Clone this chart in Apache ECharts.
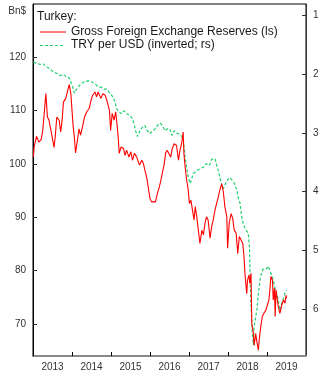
<!DOCTYPE html>
<html>
<head>
<meta charset="utf-8">
<script src="https://cdn.jsdelivr.net/npm/echarts@6/dist/echarts.min.js"></script>
<style>
html,body{margin:0;padding:0;background:#fff;}
#chart{width:325px;height:376px;}
</style>
</head>
<body>
<div id="chart"></div>
<script>
// Gross foreign exchange reserves (Bn$), decimal-year dates
var resDates = [2013.01,2013.03,2013.09,2013.15,2013.21,2013.25,2013.28,2013.33,2013.37,2013.41,2013.46,2013.49,2013.54,2013.57,2013.61,2013.67,2013.71,2013.75,2013.78,2013.84,2013.89,2013.93,2013.97,2014.00,2014.03,2014.06,2014.09,2014.14,2014.18,2014.22,2014.27,2014.32,2014.38,2014.44,2014.49,2014.53,2014.59,2014.63,2014.67,2014.74,2014.79,2014.85,2014.89,2014.96,2014.99,2015.03,2015.08,2015.12,2015.16,2015.19,2015.21,2015.26,2015.32,2015.36,2015.40,2015.46,2015.51,2015.55,2015.60,2015.66,2015.73,2015.79,2015.83,2015.87,2015.92,2015.96,2016.00,2016.04,2016.08,2016.14,2016.19,2016.24,2016.28,2016.33,2016.36,2016.40,2016.44,2016.49,2016.53,2016.57,2016.62,2016.64,2016.68,2016.73,2016.77,2016.81,2016.85,2016.87,2016.90,2016.94,2016.98,2017.01,2017.05,2017.09,2017.13,2017.16,2017.20,2017.24,2017.28,2017.33,2017.37,2017.41,2017.45,2017.49,2017.54,2017.58,2017.62,2017.67,2017.71,2017.75,2017.79,2017.84,2017.88,2017.92,2017.97,2017.99,2018.03,2018.08,2018.12,2018.16,2018.21,2018.25,2018.29,2018.33,2018.38,2018.41,2018.44,2018.48,2018.50,2018.54,2018.56,2018.59,2018.61,2018.65,2018.67,2018.71,2018.74,2018.78,2018.80,2018.84,2018.88,2018.92,2018.97,2019.01,2019.05,2019.08,2019.10,2019.14,2019.16,2019.19,2019.21,2019.23,2019.26,2019.29,2019.33,2019.38,2019.42,2019.46,2019.49,2019.50];
var resValues = [101.3,103.2,105.2,104.1,104.6,106.3,108.8,113.2,108.8,108.2,107.9,105.1,103.1,105.1,108.8,108.2,106.0,108.5,111.6,112.3,113.8,114.9,113.2,110.1,107.0,105.1,102.1,104.5,106.6,105.4,107.0,108.8,109.8,110.4,112.0,112.9,113.5,112.6,113.5,112.3,113.2,112.9,112.0,110.1,106.3,109.5,108.2,109.8,107.0,104.5,102.0,103.2,102.9,101.6,102.6,101.3,102.3,100.7,102.0,101.3,99.8,100.7,100.1,98.8,97.3,95.4,93.5,92.9,93.2,92.9,94.5,95.7,97.0,98.8,99.8,102.0,102.6,102.9,101.3,102.9,103.8,103.8,103.5,100.7,102.6,103.8,106.0,102.0,99.5,97.0,95.1,92.6,93.2,91.3,89.5,92.0,90.1,87.6,85.1,87.6,86.7,88.9,90.1,89.5,86.1,88.2,89.5,91.5,91.3,93.8,95.1,96.3,94.8,92.0,90.1,84.2,88.9,90.7,89.8,87.6,87.0,83.2,86.4,86.7,85.1,82.6,78.9,75.7,78.2,79.2,77.6,79.5,70.1,68.2,66.0,68.2,66.7,65.1,67.0,69.5,71.4,72.0,72.6,72.9,74.5,77.0,78.9,78.2,74.5,76.7,71.4,76.4,76.7,73.2,72.0,73.6,74.5,73.9,75.4,74.8];

// TRY per USD (plotted on inverted right axis)
var tryDates = [2013.01,2013.09,2013.18,2013.26,2013.35,2013.44,2013.52,2013.61,2013.69,2013.78,2013.86,2013.93,2013.97,2014.02,2014.06,2014.12,2014.19,2014.25,2014.33,2014.42,2014.51,2014.59,2014.67,2014.76,2014.82,2014.89,2014.97,2015.06,2015.10,2015.15,2015.21,2015.27,2015.33,2015.40,2015.49,2015.55,2015.60,2015.64,2015.68,2015.74,2015.81,2015.87,2015.93,2016.00,2016.06,2016.13,2016.19,2016.26,2016.32,2016.38,2016.44,2016.51,2016.56,2016.62,2016.69,2016.77,2016.85,2016.90,2016.94,2016.98,2017.03,2017.07,2017.11,2017.20,2017.28,2017.37,2017.45,2017.52,2017.58,2017.67,2017.71,2017.75,2017.79,2017.84,2017.88,2017.92,2017.97,2018.01,2018.05,2018.09,2018.14,2018.18,2018.23,2018.26,2018.31,2018.35,2018.39,2018.44,2018.48,2018.52,2018.55,2018.57,2018.59,2018.61,2018.62,2018.65,2018.67,2018.71,2018.74,2018.78,2018.82,2018.86,2018.91,2018.95,2018.99,2019.03,2019.08,2019.12,2019.16,2019.21,2019.25,2019.29,2019.33,2019.38,2019.42,2019.46,2019.50];
var tryValues = [1.79,1.81,1.83,1.82,1.87,1.91,1.96,1.98,2.02,2.00,2.04,2.06,2.13,2.22,2.32,2.25,2.19,2.15,2.12,2.11,2.13,2.16,2.21,2.22,2.25,2.25,2.32,2.39,2.47,2.59,2.64,2.67,2.62,2.67,2.70,2.76,2.87,2.98,3.06,2.96,2.90,2.87,2.96,3.01,2.96,2.93,2.87,2.83,2.87,2.96,2.93,2.93,3.04,2.96,3.00,3.02,3.09,3.41,3.58,3.75,3.86,3.78,3.69,3.64,3.61,3.58,3.52,3.55,3.45,3.44,3.55,3.64,3.75,3.89,3.95,3.89,3.81,3.78,3.76,3.79,3.83,3.88,3.98,4.09,4.20,4.43,4.54,4.63,4.60,4.71,4.94,5.51,5.96,6.19,6.36,6.61,6.30,6.13,6.02,5.73,5.51,5.37,5.31,5.34,5.31,5.27,5.28,5.42,5.51,5.65,5.73,5.85,6.02,5.90,5.82,5.73,5.68];

var leftTicks = [70, 80, 90, 100, 110, 120];
var rightTicks = [1, 2, 3, 4, 5, 6];
var yearTicks = [2013, 2014, 2015, 2016, 2017, 2018, 2019];
var yearLabels = ['2013', '2014', '2015', '2016', '2017', '2018', '2019'];

var titleText = 'Turkey:';
var seriesNames = ['Gross Foreign Exchange Reserves (ls)', 'TRY per USD (inverted; rs)'];
var unitText = 'Bn$';

function zip(a, b) { return a.map(function (v, i) { return [v, b[i]]; }); }

var labelPos = yearTicks.map(function (y) { return y + 0.5; });

var FONT = 'Liberation Sans, Arial, sans-serif';
var GREEN = '#22d070';
var chart = echarts.init(document.getElementById('chart'), null, {renderer: 'canvas'});
chart.setOption({
  animation: false,
  backgroundColor: '#fff',
  grid: {
    left: 33, right: 19, top: 4, bottom: 20,
    show: true, borderColor: '#000', borderWidth: 1,
    outerBoundsMode: 'none', containLabel: false
  },
  xAxis: {
    type: 'value', min: 2013, max: 2020,
    axisLine: {show: true, lineStyle: {color: '#8a8a8a', width: 2}},
    axisTick: {show: true, inside: true, length: 4, customValues: yearTicks, lineStyle: {color: '#000'}},
    axisLabel: {
      show: true, customValues: labelPos, margin: 6,
      fontSize: 10, color: '#333', fontFamily: FONT,
      formatter: function (v) { return yearLabels[Math.floor(v) - 2013]; }
    },
    splitLine: {show: false}
  },
  yAxis: [{
    type: 'value', min: 64, max: 130, position: 'left',
    axisLine: {show: true, lineStyle: {color: '#000', width: 1}},
    axisTick: {show: true, inside: true, length: 4, customValues: leftTicks, lineStyle: {color: '#333'}},
    axisLabel: {show: true, customValues: leftTicks, margin: 7, fontSize: 10, color: '#333', fontFamily: FONT},
    splitLine: {show: false}
  }, {
    type: 'value', min: 0.8, max: 6.8, inverse: true, position: 'right',
    axisLine: {show: true, lineStyle: {color: '#333', width: 1}},
    axisTick: {show: true, inside: true, length: 4, customValues: rightTicks, lineStyle: {color: '#333'}},
    axisLabel: {show: true, customValues: rightTicks, margin: 7, fontSize: 10, color: '#333', fontFamily: FONT},
    splitLine: {show: false}
  }],
  series: [{
    name: seriesNames[0], type: 'line', yAxisIndex: 0,
    data: zip(resDates, resValues), symbol: 'none',
    lineStyle: {color: '#ff0000', width: 1.1}, z: 3
  }, {
    name: seriesNames[1], type: 'line', yAxisIndex: 1,
    data: zip(tryDates, tryValues), symbol: 'none',
    lineStyle: {color: GREEN, width: 1.2, type: [3, 2]}, z: 2
  }],
  graphic: [
    {type: 'text', x: 26, y: 11, style: {text: unitText, font: '10px ' + FONT, fill: '#333', align: 'right', verticalAlign: 'middle'}},
    {type: 'text', x: 37, y: 17, style: {text: titleText, font: '12px ' + FONT, fill: '#1a1a1a', verticalAlign: 'middle'}},
    {type: 'line', shape: {x1: 40, y1: 32, x2: 66, y2: 32}, style: {stroke: '#ff0000', lineWidth: 1}},
    {type: 'text', x: 71, y: 32, style: {text: seriesNames[0], font: '12px ' + FONT, fill: '#1a1a1a', verticalAlign: 'middle'}},
    {type: 'line', shape: {x1: 40, y1: 45.5, x2: 64, y2: 45.5}, style: {stroke: GREEN, lineWidth: 1, lineDash: [3, 2]}},
    {type: 'text', x: 71, y: 45, style: {text: seriesNames[1], font: '12px ' + FONT, fill: '#1a1a1a', verticalAlign: 'middle'}}
  ]
});
</script>
</body>
</html>
